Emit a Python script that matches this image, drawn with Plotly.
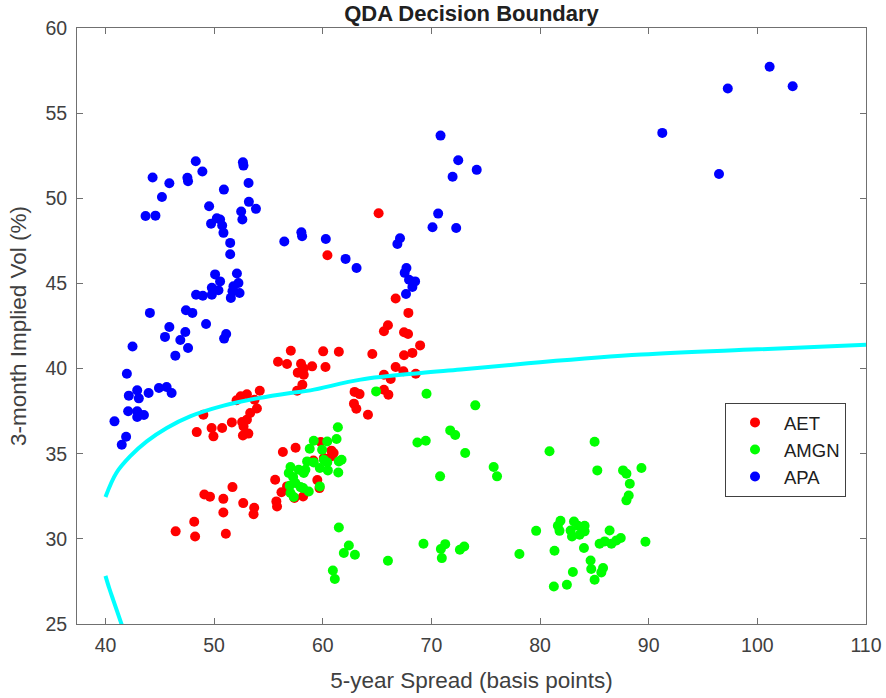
import plotly.graph_objects as go

# ---- data ----
aet_x = [65.14, 60.43, 66.71, 67.88, 66.0, 65.63, 67.48, 67.85, 68.96, 68.25, 67.48, 64.56,
         57.06, 55.88, 56.71, 60.04, 61.48, 60.25, 58.0, 58.25, 59.02, 57.7, 58.25, 58.12, 57.64,
         66.71, 67.42, 65.63, 66.25, 68.56, 62.93, 63.39, 65.63, 66.04, 62.87, 63.09, 64.16,
         54.2, 53.02, 52.45, 52.07, 53.72, 53.94, 53.32, 53.02, 52.58, 52.71, 51.63, 50.74, 49.77,
         49.94, 48.4, 49.01, 52.65, 53.15, 56.33, 57.5, 59.82, 60.8, 60.78, 60.1, 59.14, 61.0,
         55.62, 59.5, 59.7, 56.71, 56.2, 57.39, 58.19, 55.73, 55.79, 51.69, 49.1, 49.62, 50.85,
         52.68, 53.69, 53.63, 50.85, 48.17, 46.46, 48.25, 51.08]
aet_y = [49.12, 46.65, 44.11, 43.27, 42.54, 42.19, 42.13, 42.03, 41.36, 40.92, 40.78, 40.86,
         41.05, 40.40, 40.27, 41.01, 40.99, 40.09, 40.28, 40.0, 40.13, 39.76, 39.64, 39.05, 38.70,
         40.09, 39.84, 39.64, 39.39, 39.70, 38.63, 38.5, 38.76, 38.47, 37.94, 37.64, 37.29,
         38.7, 38.49, 38.37, 38.14, 38.17, 37.66, 37.39, 37.0, 36.86, 36.6, 36.84, 36.51, 36.51,
         36.02, 36.27, 37.29, 36.07, 36.18, 35.1, 35.35, 35.69, 35.18, 34.84, 34.75, 34.6, 35.04,
         33.47, 33.45, 32.98, 33.08, 32.74, 32.4, 32.49, 32.2, 31.9, 33.04, 32.6, 32.48, 32.35,
         32.1, 31.83, 31.45, 31.55, 31.0, 30.44, 30.14, 30.3]

amgn_x = [64.91, 69.55, 74.04, 61.39, 61.27, 60.41, 59.17, 58.8, 59.94, 71.73, 72.19, 68.71,
          69.48, 73.11, 70.8, 61.73, 61.48, 61.43, 60.41, 60.1, 60.47, 59.73, 59.17, 58.56, 58.4,
          58.25, 57.79, 57.03, 56.87, 57.27, 57.48, 56.96, 57.95, 58.71, 59.73, 57.03, 57.33, 58.19,
          61.48, 62.4, 61.94, 62.96, 60.93, 61.11, 66.0, 69.27, 71.27, 70.87, 70.96, 72.62, 73.02,
          80.87, 85.02, 85.27, 87.64, 87.95, 88.26, 88.16, 87.95, 89.33, 75.73, 76.04,
          78.1, 79.64, 81.33, 81.27, 82.47, 83.02, 81.88, 81.64, 81.79, 83.12, 82.81, 82.94, 83.64,
          84.1, 83.49, 84.1, 84.04, 84.65, 84.71, 85.8, 85.64, 85.02, 86.4, 85.48, 85.95, 86.57,
          87.03, 87.43, 89.7]
amgn_y = [38.66, 38.52, 37.84, 36.55, 35.86, 35.72, 35.76, 35.29, 35.23, 36.37, 36.1, 35.66,
          35.76, 35.04, 33.67, 34.65, 34.55, 33.9, 34.49, 34.65, 34.02, 34.16, 34.49, 34.55, 34.06,
          33.87, 34.06, 34.22, 33.87, 33.63, 33.28, 33.12, 33.04, 32.78, 33.08, 32.69, 32.46, 32.98,
          30.67, 29.61, 29.17, 29.07, 28.14, 27.64, 28.71, 29.71, 29.69, 29.4, 28.87, 29.36, 29.55,
          35.14, 35.7, 34.02, 34.02, 33.83, 33.24, 32.55, 32.26, 34.16, 34.22, 33.67,
          29.11, 30.47, 29.3, 27.2, 27.3, 28.05, 31.06, 30.77, 30.47, 31.02, 30.49, 30.14, 30.24,
          30.77, 30.77, 30.44, 29.46, 28.73, 28.23, 28.29, 28.03, 27.6, 30.49, 29.71, 29.85, 29.71,
          29.91, 30.05, 29.83]

apa_x = [48.31, 48.92, 44.34, 45.88, 47.54, 47.6, 45.2, 43.69, 44.6, 52.65, 52.7, 53.17, 50.9,
         53.2, 53.85, 49.54, 52.49, 52.6, 50.25, 50.55, 49.72, 50.74, 50.86, 51.48, 51.48, 52.1,
         50.09, 50.55, 52.24, 49.79, 50.4, 49.79, 51.78, 51.69, 52.34, 51.54, 48.34, 48.96, 44.09,
         47.41, 48.0, 49.26, 45.88, 45.48, 47.35, 46.89, 51.11, 50.92, 47.6, 46.43, 42.49, 41.97,
         42.92, 42.15, 43.07, 43.97, 44.92, 45.63, 46.09, 42.09, 42.92, 43.17, 43.54, 42.92, 40.83,
         41.9, 41.5,
         56.46, 58.03, 58.1, 60.28, 62.1, 63.11, 67.11, 66.87, 67.7, 67.54, 67.94, 68.5, 68.25, 67.66,
         70.84, 72.47, 74.17, 71.95, 70.62, 70.1, 72.28,
         101.13, 103.25, 97.28, 91.25, 96.47]
apa_y = [52.17, 51.57, 51.22, 50.88, 51.2, 51.0, 50.08, 48.96, 48.98, 52.12, 51.92, 50.9, 50.51,
         49.79, 49.38, 49.53, 49.22, 48.75, 48.83, 48.75, 48.51, 48.4, 47.97, 47.38, 46.71, 45.58,
         45.53, 45.12, 45.03, 44.74, 44.6, 44.34, 44.83, 44.54, 44.44, 44.15, 44.34, 44.28, 43.27,
         43.42, 43.27, 42.62, 42.44, 41.86, 42.15, 41.68, 42.03, 41.76, 41.21, 40.76, 41.3, 39.7,
         38.72, 38.41, 38.25, 38.57, 38.86, 38.92, 38.57, 37.49, 37.49, 37.29, 37.27, 37.16, 36.9,
         36.0, 35.53,
         47.46, 48.0, 47.77, 47.61, 46.44, 45.91, 47.65, 47.32, 45.91, 45.62, 45.22, 45.12, 44.79, 44.38,
         53.68, 52.23, 51.67, 51.26, 49.1, 48.3, 48.26,
         57.72, 56.58, 56.45, 53.84, 51.43]

# decision boundary
upper_x = [40.0, 41.0, 42.26, 43.8, 45.64, 47.79, 50.87, 53.95, 57.03, 58.87, 63.48, 69.02,
           72.71, 80.0, 89.33, 100.0, 110.0]
upper_y = [32.46, 33.87, 34.84, 35.72, 36.51, 37.19, 37.82, 38.25, 38.57, 38.72, 39.35, 39.74,
           39.94, 40.37, 40.82, 41.13, 41.4]
lower_x = [40.0, 40.35, 40.71, 41.1, 41.5]
lower_y = [27.83, 27.1, 26.42, 25.7, 24.95]

x_ticks = [40, 50, 60, 70, 80, 90, 100, 110]
y_ticks = [25, 30, 35, 40, 45, 50, 55, 60]

FONT = "Liberation Sans, Arial, sans-serif"

fig = go.Figure()
for name, xs, ys, col in [("AET", aet_x, aet_y, "#FF0000"),
                          ("AMGN", amgn_x, amgn_y, "#00FF00"),
                          ("APA", apa_x, apa_y, "#0000FF")]:
    fig.add_trace(go.Scatter(x=xs, y=ys, mode="markers", name=name,
                             marker=dict(color=col, size=10, line=dict(width=0))))

for xs, ys in [(upper_x, upper_y), (lower_x, lower_y)]:
    fig.add_trace(go.Scatter(x=xs, y=ys, mode="lines", showlegend=False,
                             line=dict(color="#00FFFF", width=4, shape="spline"),
                             hoverinfo="skip"))

axis_common = dict(showline=True, linecolor="#707070", linewidth=1, mirror="ticks",
                   ticks="inside", ticklen=6, tickcolor="#707070", showgrid=False,
                   zeroline=False, automargin=False,
                   tickfont=dict(family=FONT, size=19.5, color="#404040"))

fig.update_layout(
    width=886, height=698,
    margin=dict(l=77, r=20, t=28, b=74),
    paper_bgcolor="white", plot_bgcolor="white",
    font=dict(family=FONT, color="#404040"),
    title=dict(text="<b>QDA Decision Boundary</b>", x=0.5, xref="paper", y=1 - 13 / 698,
               yanchor="middle", xanchor="center",
               font=dict(family=FONT, size=22, color="#202020")),
    xaxis=dict(range=[37.38, 110], tickvals=x_ticks, ticktext=[str(v) for v in x_ticks],
               ticklabelstandoff=4,
               title=dict(text="5-year Spread (basis points)", standoff=16,
                          font=dict(family=FONT, size=22.5, color="#404040")),
               **axis_common),
    yaxis=dict(range=[25, 60], tickvals=y_ticks, ticktext=[str(v) for v in y_ticks],
               ticklabelstandoff=5,
               title=dict(text="3-month Implied Vol (%)", standoff=12,
                          font=dict(family=FONT, size=22.5, color="#404040")),
               **axis_common),
    legend=dict(x=0.8213, y=0.371, xanchor="left", yanchor="top",
                bgcolor="white", bordercolor="#404040", borderwidth=1,
                font=dict(family=FONT, size=18.5, color="#202020"),
                itemwidth=48, tracegroupgap=0),
    showlegend=True,
)

fig.write_html("out.html")
